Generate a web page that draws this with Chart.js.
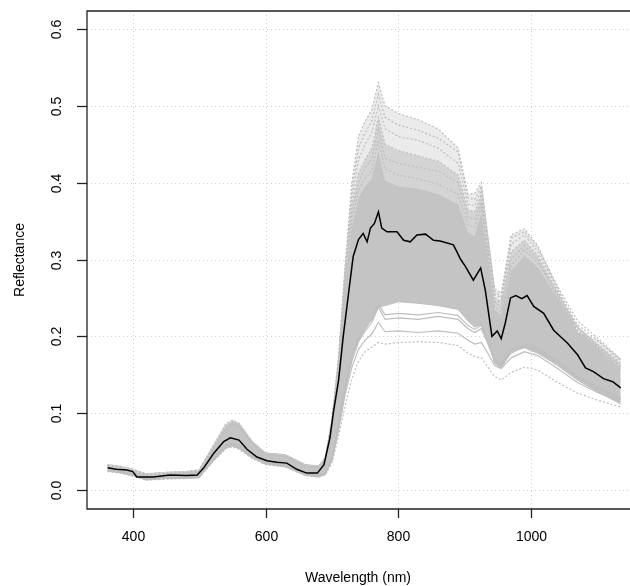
<!DOCTYPE html>
<html>
<head>
<meta charset="utf-8">
<script src="https://cdn.jsdelivr.net/npm/chart.js@4.4.0/dist/chart.umd.min.js"></script>
<style>
  html, body { margin: 0; padding: 0; background: #fff; overflow: hidden; }
  #wrap { width: 630px; height: 586px; }
</style>
</head>
<body>
<div id="wrap"><canvas id="c" width="630" height="586"></canvas></div>
<script>
// wavelengths (nm) for the grey spectra
const WL = [362,380,400,420,450,480,500,520,540,550,560,580,600,630,660,680,690,700,
            710,720,730,740,750,760,770,780,800,830,860,890,905,915,925,935,945,955,970,990,1010,1040,1070,1100,1135];

// dense core of the grey spectra (lower / upper edge)
const bandLow  = [.025,.023,.019,.013,.015,.015,.016,.038,.055,.057,.054,.042,.034,.030,.019,.017,.020,.040,
                  .085,.135,.175,.195,.210,.222,.238,.240,.245,.243,.240,.235,.220,.212,.215,.195,.165,.158,.180,.185,.178,.162,.143,.128,.112];
const bandHigh = [.033,.031,.027,.021,.023,.024,.026,.056,.085,.090,.086,.063,.048,.046,.033,.031,.042,.090,
                  .160,.270,.340,.380,.395,.405,.440,.402,.395,.392,.385,.372,.335,.330,.360,.300,.235,.228,.285,.305,.290,.250,.210,.185,.158];

// brighter spectra (dotted, above the core)
const upper1 = [.031,.029,.025,.019,.021,.022,.024,.052,.080,.086,.082,.060,.046,.044,.031,.029,.040,.086,
                .160,.272,.350,.390,.405,.415,.455,.418,.410,.405,.398,.385,.345,.342,.368,.305,.238,.232,.292,.312,.296,.255,.212,.188,.160];
const upper2 = [.032,.030,.026,.020,.022,.023,.025,.054,.083,.088,.084,.061,.047,.045,.032,.030,.041,.088,
                .165,.280,.360,.400,.420,.430,.470,.432,.425,.420,.415,.400,.355,.352,.375,.310,.245,.238,.300,.318,.300,.252,.208,.186,.162];
const upper3 = [.030,.028,.025,.019,.021,.023,.025,.053,.082,.089,.085,.062,.047,.044,.031,.030,.041,.089,
                .168,.285,.372,.412,.430,.445,.485,.450,.442,.435,.428,.410,.365,.362,.385,.320,.250,.245,.310,.325,.305,.258,.212,.190,.165];
const upper4 = [.031,.029,.026,.020,.022,.024,.026,.055,.084,.090,.086,.063,.048,.045,.032,.031,.042,.090,
                .170,.288,.380,.430,.450,.465,.500,.470,.460,.455,.445,.425,.372,.370,.390,.325,.255,.250,.320,.332,.310,.262,.215,.195,.168];
const upper5 = [.032,.030,.026,.020,.022,.023,.025,.054,.083,.089,.085,.062,.047,.045,.032,.030,.041,.090,
                .172,.290,.390,.445,.465,.480,.515,.485,.475,.468,.458,.440,.380,.378,.395,.328,.258,.252,.328,.336,.315,.265,.220,.198,.170];
const upper6 = [.033,.031,.027,.021,.023,.024,.026,.056,.086,.091,.087,.063,.048,.046,.033,.031,.043,.092,
                .175,.295,.400,.460,.480,.495,.530,.500,.490,.482,.470,.445,.385,.386,.400,.330,.262,.256,.332,.340,.318,.262,.205,.195,.170];

// darker spectra (below the core)
const lower1 = [.024,.022,.018,.013,.014,.015,.016,.036,.054,.056,.053,.041,.033,.030,.019,.017,.020,.035,
                .070,.110,.145,.168,.180,.186,.192,.190,.192,.193,.192,.188,.178,.174,.172,.160,.148,.143,.153,.160,.156,.140,.126,.117,.108];
const lower2 = [.025,.023,.019,.014,.015,.016,.017,.037,.055,.058,.055,.042,.034,.031,.020,.018,.021,.038,
                .078,.125,.160,.183,.195,.203,.218,.206,.207,.205,.207,.204,.195,.190,.192,.178,.162,.158,.172,.180,.175,.158,.140,.127,.115];
const lower3 = [.026,.024,.020,.014,.016,.016,.017,.038,.057,.060,.057,.043,.035,.031,.020,.018,.021,.040,
                .082,.130,.168,.193,.207,.218,.238,.222,.224,.222,.226,.222,.210,.205,.210,.190,.168,.162,.178,.187,.182,.165,.146,.132,.118];
const lower4 = [.026,.024,.020,.015,.016,.017,.018,.039,.058,.061,.058,.044,.035,.032,.021,.019,.022,.041,
                .084,.134,.172,.198,.212,.222,.242,.228,.230,.228,.231,.227,.214,.209,.214,.193,.170,.165,.182,.190,.185,.168,.148,.134,.120];

// mean spectrum (black)
const meanWl  = [362,375,391,400,406,431,456,481,497,507,522,537,547,560,572,587,602,617,632,647,662,678,688,697,702,710,717,725,732,740,
                 747,753,758,764,770,775,783,798,808,818,828,841,853,863,883,894,901,913,924,931,941,949,955,961,969,977,986,994,1004,1019,
                 1034,1055,1070,1082,1094,1109,1123,1135];
const meanVal = [.029,.027,.026,.024,.017,.017,.0195,.019,.0195,.029,.048,.063,.068,.065,.053,.043,.038,.036,.035,.027,.022,.022,.033,.068,.100,.143,.200,.256,.304,.326,
                 .334,.323,.341,.347,.362,.341,.336,.336,.325,.323,.332,.333,.325,.324,.319,.300,.291,.273,.289,.260,.200,.207,.197,.217,.250,.253,.249,.253,.239,.230,
                 .208,.191,.176,.159,.154,.145,.141,.133];

const X_TICKS = [400, 600, 800, 1000];
const Y_TICKS = [0, 0.1, 0.2, 0.3, 0.4, 0.5, 0.6];

const FONT = '14px "Liberation Sans", Arial, sans-serif';
const GREY = '#bebebe';

function pts(xs, ys) { return xs.map((x, i) => ({ x: x, y: ys[i] })); }

function greyLine(arr, dotted, fillTo, fillColor) {
  return {
    data: pts(WL, arr),
    borderColor: GREY,
    borderWidth: 1.2,
    borderDash: dotted ? [2, 2] : [],
    pointRadius: 0,
    fill: fillTo === undefined ? false : fillTo,
    backgroundColor: fillColor || 'transparent',
    order: 1
  };
}

// chart.js draws lower "order" on top, so the mean line gets order 0
const datasets = [
  { data: pts(WL, bandLow), borderColor: GREY, borderWidth: 1, pointRadius: 0, fill: false, order: 2 },
  { data: pts(WL, bandHigh), borderColor: GREY, borderWidth: 1, pointRadius: 0, fill: 0, backgroundColor: '#c4c4c4', order: 2 },
  greyLine(lower1, true),
  greyLine(lower2, false),
  greyLine(lower3, false),
  greyLine(lower4, false),
  greyLine(upper1, true),
  greyLine(upper2, true),
  greyLine(upper3, true, 1, '#d4d4d4'),   // sparser dotted spectra: lighter wash
  greyLine(upper4, true),
  greyLine(upper5, true),
  greyLine(upper6, true, 8, '#ebebeb'),
  { data: pts(meanWl, meanVal), borderColor: '#000', borderWidth: 1.5, pointRadius: 0, fill: false, order: 0 }
];

// R style frame, dotted grid, ticks and labels
const rPlot = {
  id: 'rPlot',
  beforeDatasetsDraw(chart) {
    const { ctx, chartArea: a, scales: { x, y } } = chart;
    ctx.save();
    ctx.strokeStyle = '#cfcfcf';
    ctx.lineWidth = 1;
    ctx.setLineDash([1, 3]);
    X_TICKS.forEach(v => {
      const px = Math.round(x.getPixelForValue(v)) + 0.5;
      ctx.beginPath(); ctx.moveTo(px, a.top); ctx.lineTo(px, a.bottom); ctx.stroke();
    });
    Y_TICKS.forEach(v => {
      const py = Math.round(y.getPixelForValue(v)) + 0.5;
      ctx.beginPath(); ctx.moveTo(a.left, py); ctx.lineTo(a.right, py); ctx.stroke();
    });
    ctx.restore();
  },
  afterDraw(chart) {
    const { ctx, chartArea: a, scales: { x, y } } = chart;
    ctx.save();
    ctx.strokeStyle = '#222';
    ctx.lineWidth = 1.3;
    ctx.beginPath();
    ctx.moveTo(a.right, a.top); ctx.lineTo(a.left, a.top);
    ctx.lineTo(a.left, a.bottom); ctx.lineTo(a.right, a.bottom);
    ctx.stroke();

    ctx.fillStyle = '#000';
    ctx.font = FONT;
    ctx.textAlign = 'center';
    ctx.textBaseline = 'middle';

    X_TICKS.forEach(v => {
      const px = Math.round(x.getPixelForValue(v)) + 0.5;
      ctx.beginPath(); ctx.moveTo(px, a.bottom); ctx.lineTo(px, a.bottom + 9); ctx.stroke();
      ctx.fillText(String(v), px, 537);
    });
    Y_TICKS.forEach(v => {
      const py = Math.round(y.getPixelForValue(v)) + 0.5;
      ctx.beginPath(); ctx.moveTo(a.left, py); ctx.lineTo(a.left - 10, py); ctx.stroke();
      ctx.save();
      ctx.translate(57, py);
      ctx.rotate(-Math.PI / 2);
      ctx.fillText(v.toFixed(1), 0, 0);
      ctx.restore();
    });

    ctx.fillText('Wavelength (nm)', 358, 578);
    ctx.save();
    ctx.translate(20, (a.top + a.bottom) / 2);
    ctx.rotate(-Math.PI / 2);
    ctx.fillText('Reflectance', 0, 0);
    ctx.restore();
    ctx.restore();
  }
};

new Chart(document.getElementById('c'), {
  type: 'line',
  data: { datasets: datasets },
  plugins: [rPlot],
  options: {
    responsive: false,
    animation: false,
    devicePixelRatio: 1,
    events: [],
    layout: { padding: { top: 11, right: 0, bottom: 0, left: 0 } },
    plugins: { legend: { display: false }, tooltip: { enabled: false } },
    elements: { line: { tension: 0 } },
    scales: {
      x: {
        type: 'linear', min: 331, max: 1149,
        ticks: { display: false },
        grid: { display: false, drawTicks: false },
        border: { display: false },
        afterFit(s) { s.height = 77; }
      },
      y: {
        type: 'linear', min: -0.0247, max: 0.6234,
        ticks: { display: false },
        grid: { display: false, drawTicks: false },
        border: { display: false },
        afterFit(s) { s.width = 87; }
      }
    }
  }
});
</script>
</body>
</html>
